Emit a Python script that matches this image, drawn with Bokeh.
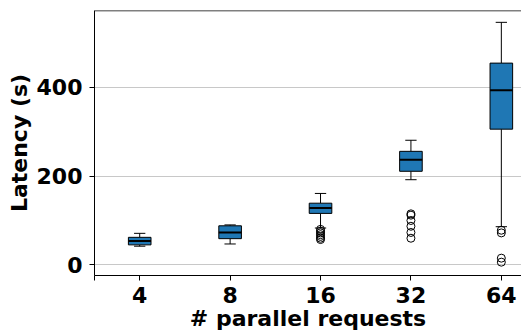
from bokeh.plotting import figure
from bokeh.models import Range1d, FixedTicker, Span, ColumnDataSource
from bokeh.embed import file_html
from bokeh.resources import INLINE

# ---- data ----
categories = ["4", "8", "16", "32", "64"]
positions = [1, 2, 3, 4, 5]
whisker_low = [42, 47, 83, 192, 86]
q1 = [45, 59, 116, 211, 306]
median = [54, 73, 128, 237, 394]
q3 = [62, 88, 139, 256, 455]
whisker_high = [71, 90, 161, 281, 547]
outliers = {
    "16": [80, 76, 72, 68, 64, 60, 57],
    "32": [115, 112, 100, 87, 73, 60],
    "64": [78, 72, 15, 6],
}
y_ticks = [0, 200, 400]

BOX_W = 0.25
CAP_W = 0.125
FONT = "DejaVu Sans"
Y_TOP = 573.7

p = figure(width=521, height=335, output_backend="svg", toolbar_location=None,
           x_range=Range1d(0.5, 5.223), y_range=Range1d(-24.1, Y_TOP),
           min_border_left=94, min_border_top=10, min_border_right=0, min_border_bottom=60)
p.outline_line_color = None
p.background_fill_color = "white"
p.border_fill_color = "white"

# grid
p.xgrid.grid_line_color = None
p.ygrid.grid_line_color = "#c8c8c8"
p.ygrid.grid_line_width = 1
p.ygrid.ticker = FixedTicker(ticks=y_ticks)

src = ColumnDataSource(dict(x=positions, lw=whisker_low, q1=q1, med=median, q3=q3, hw=whisker_high,
                            cl=[x - CAP_W / 2 for x in positions], cr=[x + CAP_W / 2 for x in positions],
                            bl=[x - BOX_W / 2 for x in positions], br=[x + BOX_W / 2 for x in positions]))

# whiskers
p.segment(x0="x", y0="q3", x1="x", y1="hw", source=src, line_color="black", line_width=1)
p.segment(x0="x", y0="q1", x1="x", y1="lw", source=src, line_color="black", line_width=1)
# caps
p.segment(x0="cl", y0="hw", x1="cr", y1="hw", source=src, line_color="black", line_width=1)
p.segment(x0="cl", y0="lw", x1="cr", y1="lw", source=src, line_color="black", line_width=1)
# boxes
p.vbar(x="x", width=BOX_W, bottom="q1", top="q3", source=src,
       fill_color="#1f77b4", line_color="black", line_width=1)
# medians
p.segment(x0="bl", y0="med", x1="br", y1="med", source=src, line_color="black", line_width=2)

# fliers
fx, fy = [], []
for cat, pos in zip(categories, positions):
    for v in outliers.get(cat, []):
        fx.append(pos)
        fy.append(v)
p.scatter(fx, fy, marker="circle", size=8, fill_color=None, line_color="black", line_width=1)

# top spine
p.add_layout(Span(location=Y_TOP, dimension="width", line_color="black", line_width=1.5))

# axes
p.xaxis.ticker = FixedTicker(ticks=[0.5] + positions)
p.xaxis.major_label_overrides = {0.5: "", **{pos: c for pos, c in zip(positions, categories)}}
p.yaxis.ticker = FixedTicker(ticks=y_ticks)
for ax in (p.xaxis[0], p.yaxis[0]):
    ax.axis_line_color = "black"
    ax.axis_line_width = 1
    ax.major_tick_line_color = "black"
    ax.major_tick_out = 5
    ax.major_tick_in = 0
    ax.minor_tick_line_color = None
    ax.major_label_text_font = FONT
    ax.major_label_text_font_style = "bold"
    ax.major_label_text_font_size = "22px"
    ax.major_label_text_color = "black"
    ax.axis_label_text_font = FONT
    ax.axis_label_text_font_style = "bold"
    ax.axis_label_text_font_size = "22px"
    ax.axis_label_text_color = "black"

p.xaxis.axis_label = "# parallel requests"
p.yaxis.axis_label = "Latency (s)"
p.xaxis.major_label_standoff = 6
p.xaxis.axis_label_standoff = 0
p.yaxis.major_label_standoff = 7
p.yaxis.axis_label_standoff = 2

open("out.html", "w").write(file_html(p, INLINE))
